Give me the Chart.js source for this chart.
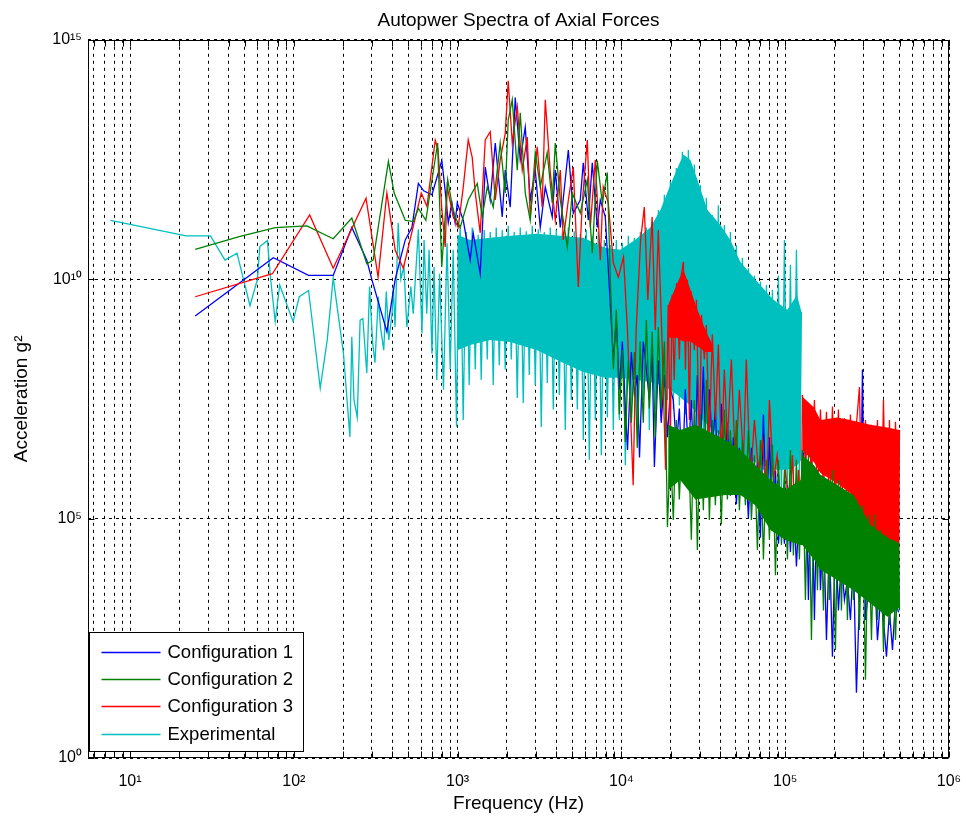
<!DOCTYPE html>
<html>
<head>
<meta charset="utf-8">
<script src="https://cdn.jsdelivr.net/npm/chart.js@4.4.0/dist/chart.umd.min.js"></script>
<style>
html, body { margin: 0; padding: 0; background: #fff; }
</style>
</head>
<body>
<canvas id="spectra" width="966" height="819"></canvas>
<script>
// Tick values and labels
const xTickValues = [10, 100, 1e3, 1e4, 1e5, 1e6];
const xTickLabels = ['10¹', '10²', '10³', '10⁴', '10⁵', '10⁶'];
const yTickValues = [1, 1e5, 1e10, 1e15];
const yTickLabels = ['10⁰', '10⁵', '10¹⁰', '10¹⁵'];

// Configuration 1 (blue) [frequency Hz, g^2]
const cfg1Data = [
  [25,1.7e9],[75,2.8e10],[123,1.2e10],[174,1.2e10],[226,1.2e11],[279,2.5e10],[299,1e10],[370,8e8],[416,1e10],[479,6.6e10],[526,1.2e11],[576,1e12],[620,7e11],[697,5.8e11],[801,3e12],[840,7e11],[877,1.5e11],[923,3.9e11],[966,1.5e11],
  [995,3.9e11],[1083,1.7e11],[1193,2.5e10],[1245,9.3e10],[1374,1.3e10],[1475,2.2e12],[1582,4.5e11],[1698,7e12],[1872,2e11],[1953,1.9e12],[2095,3.2e11],[2248,6.2e13],[2412,3.1e12],[2588,1.5e13],[2776,4.5e11],[2979,1.9e12],[3196,1.2e11],[3429,8.4e11],[3782,2e11],[3947,1.9e12],[4235,1.2e11],[4742,5e12],[5085,2.4e11],[5608,4.5e11],[5851,2.7e12],[6277,1.7e11],[6640,2.7e12],[7125,1.2e11],[7432,4.5e11],[7974,2e11],
  [8560,3e9],[8930,2e8],[9310,1.5e9],[9710,5e7],[10130,5e8],[10570,2e7],[10900,2.7e6],[11500,3e8],[12000,4e7],[12500,1e8],[12900,1.9e6],[13600,5e8],[14000,2.2e8],[14800,3e7],[15400,3e8],[15900,1.2e6],[16800,2e8],[17500,1e7],[18300,1e8],[19100,5e6],[19900,5e7],
  [20750,3e7],[21650,3e6],[22580,2e7],[23550,6e5],[24560,5e7],[25630,2e6],[26730,3e7],[27880,4e5],[29090,1e8],[30340,2e6],[31640,1.5e8],[33010,1e6],[34440,5e7],[35920,3e6],[37460,2e7],[39080,5e5],[40760,2.5e7],[42520,1e6],[44360,1e7],[46270,3e5],[48270,5e6],[50350,2e5],[52520,3e6],[54780,3e5],[57150,2e6],[59610,1e5],[62180,3e6],[64860,2e5],[67660,1.5e6],[70580,4e4],[73620,1.5e7],[76800,9e4],[80110,5e6],[83560,6.7e4],[87160,1e6],[90920,3e4],[94840,2e5],[98930,3e4],[103200,5e5],[107600,2e4],[112200,3e5],[117100,1e4],[122100,2e5],[125600,3e4],
  [127400,1.7e6],[132900,3.5e6],[138600,2e3],[144600,2.1e6],[150800,760],[157300,1.05e6],[164100,3.2e3],[171200,9.4e4],[178600,290],[186200,3.6e4],[194300,130],[202600,5.8e4],[211300,1.2e3],[220400,1.4e4],[229900,2e3],[239900,5.2e3],[250200,760],[261000,1.4e4],[272200,23],[284000,2e3],[296200,1.3e8],[309000,760],[322300,3.2e3],[336200,2e3],[350700,8.5e3],[365800,290],[381600,2e3],[398100,760],[415200,130],[433100,1.2e3],[451800,180],[471300,2e3],[491600,1.1e3]
];

// Configuration 2 (green)
const cfg2Data = [
  [25,4.2e10],[47,7.8e10],[77,1.2e11],[120,1.3e11],[174,7e10],[226,1.9e11],[279,2.1e10],[305,2.5e10],[378,2.9e12],[410,6.3e11],[479,1.7e11],[537,1.6e11],[576,3e11],[640,1.7e11],[755,7e12],[800,1.8e10],[870,1.2e12],[930,3.2e11],
  [967,2e11],[1037,1.2e11],[1161,4.5e11],[1318,1e12],[1414,2e11],[1517,8.5e11],[1650,3.2e11],[1820,7e12],[1953,6.3e11],[2037,2.1e13],[2156,5.6e13],[2313,1.9e12],[2412,3e13],[2588,6.3e11],[2776,1.7e11],[2979,4.4e12],[3196,8.5e11],[3524,4.4e12],[3782,3.9e11],[3947,7e12],[4235,4.5e11],[4675,4.7e10],[5012,6.3e11],[5608,2.4e11],[6194,1.2e12],[6640,3.5e10],[7125,3e12],[7646,3.9e11],[8200,1.7e12],
  [8560,9.7e9],[8930,1.3e8],[9310,2.3e9],[9710,1.5e7],[10130,3.3e8],[10570,4e6],[11020,2e8],[11500,1e7],[12000,3e8],[12500,3e6],[13000,5e8],[13600,1e7],[14200,1.4e9],[14800,2e7],[15400,8e8],[16100,5e6],[16800,1e9],[17500,2e7],[18300,5e8],[19100,6.7e4],[19900,3e6],
  [20750,9.4e4],[21650,1.15e7],[22580,2.5e5],[23550,7.1e6],[24560,1.05e6],[25630,4.4e6],[26730,3.6e4],[27880,3e7],[29090,2.2e4],[30340,1.5e7],[31640,1.5e5],[33010,7.9e7],[34440,9.4e4],[35920,1.15e7],[37460,1.9e5],[39080,7.1e6],[40760,7.5e4],[42520,1.9e7],[44360,2.5e5],[46270,7.1e6],[48270,4e5],[50350,1.15e7],[52520,1.5e5],[54780,4.4e6],[57150,1.9e5],[59610,7.1e6],[62180,9.4e4],[64860,2.1e6],[67660,2.2e4],[70580,4.4e6],[73620,1.4e4],[76800,1.7e6],[80110,3.6e4],[83560,3.5e6],[87160,6.6e3],[90920,1.7e6],[94840,2.8e4],[98930,1.05e6],[103200,1.4e4],[107600,2.7e6],[112200,1.7e4],[117100,1.7e6],[122100,1.4e4],
  [127400,2.7e6],[132900,2e3],[138600,2.1e6],[144600,290],[150800,1.05e6],[157300,3.2e3],[164100,6.4e5],[171200,1.2e3],[178600,5e5],[186200,2e3],[194300,1.05e6],[202600,180],[211300,6.4e5],[220400,1.2e3],[229900,4e5],[239900,760],[250200,3.1e5],[261000,2e3],[272200,2.5e5],[284000,470],[296200,1.9e5],[309000,43],[322300,1.2e5],[336200,290],[350700,1.2e5],[365800,760],[381600,5.8e4],[398100,180],[415200,4.6e4],[433100,600],[451800,3.6e4],[471300,290],[491600,2.8e4],[498600,1.2e3]
];

// Configuration 3 (red)
const cfg3Data = [
  [25,4.3e9],[74,1.3e10],[125,2.2e11],[174,1.7e10],[276,4.9e11],[327,1.1e10],[370,6.3e11],[416,4e10],[466,1.7e10],[537,1.3e11],[600,6.3e11],[650,3.3e11],[730,8e12],[760,5e12],[800,3.1e11],[840,4.7e10],[864,8.5e11],[940,2e11],
  [1008,1.2e11],[1083,8.5e11],[1161,8.1e12],[1228,3.5e12],[1282,6.3e11],[1374,9.3e10],[1475,8.1e12],[1582,1.2e13],[1698,4.5e11],[1820,3.1e12],[1953,1.1e13],[2037,1.4e14],[2156,7e12],[2313,4e13],[2482,1.9e12],[2663,9.3e12],[2776,2e11],[3062,5.8e12],[3285,3.2e11],[3429,5.6e13],[3679,1.7e12],[3947,1.7e11],[4235,1.9e12],[4416,6.6e10],[4742,4.5e11],[5085,2.2e12],[5456,6.9e9],[5770,3.9e11],[6194,8.1e12],[6459,1.2e11],[6930,3.1e12],[7432,2.5e10],[7748,8.5e11],[8318,3.9e11],[8925,2.2e10],[9580,1.1e10],[10300,2.9e10],
  [10900,8e8],[11800,5e5],[12300,8.7e8],[13100,6.6e10],[13800,3.2e11],[14500,3.7e9],[15400,2e11],[16100,8.7e8],[16800,1.07e11],[17700,5.4e8],[18600,1.05e6],
  [19300,2.9e9],[19900,4.4e6],[20400,4.7e9],[21000,7.9e7],[21700,8.3e9],[22600,2.1e8],[23200,1.2e10],[23900,2.3e10],[24600,1.3e8],[25300,9.7e9],[26000,1.15e7],[26700,5.5e9],[27900,3.3e8],[28700,3.7e9],[30000,2.1e6],[30800,1.8e9],[32100,2.1e8],[33000,1.1e9],[34400,4.4e6],[35900,7e8],[37500,1.15e7],[39100,4.3e8],[40800,1.7e6],[42500,1.3e8],[44400,4.4e6],[46900,2.1e8],[49700,1.05e6],[52500,4.9e7],[55600,1.7e6],[57900,2.1e8],[61300,6.4e5],[64900,1.15e7],[68600,1.05e6],[72600,4.4e6],[76800,2.5e5],[80100,3e7],[84700,6.4e5],[89300,2.1e6],[94800,9.4e4],[100300,1.05e6],[106100,1.5e5],[110700,2.1e6],[115500,5.8e4],[120500,1.05e6],[125600,9.4e4],
  [127400,3.8e7],[132900,1.05e6],[138600,2.4e7],[144600,6.4e5],[150800,3e7],[157300,2.5e5],[164100,1.9e7],[171200,3.1e5],[178600,1.7e7],[186200,1.5e5],[194300,2.2e7],[202600,1.9e5],[211300,1.9e7],[220400,9.4e4],[229900,1.25e7],[239900,5.8e4],[250200,1.5e7],[261000,3.6e4],[272200,9.1e6],[284000,5.6e7],[296200,2.8e4],[309000,1.15e7],[322300,1.4e4],[336200,9.1e6],[350700,2.2e4],[365800,1.15e7],[381600,1.7e4],[398100,3e7],[415200,1.4e4],[433100,1.15e7],[451800,1.07e4],[471300,1.05e7],[491600,1.4e4],[498600,7.1e6]
];

// Experimental (cyan)
const expData = [
  [7.6,1.7e11],[22,8e10],[31,8e10],[38,2.5e10],[45,3.5e10],[54,2.8e9],[60,1e10],[62,4.8e10],[69,6.4e10],[72,1.1e10],[77,1.3e9],[82,7.6e9],[99,1.3e9],[108,4.3e9],[123,5.8e9],[145,5.3e7],[160,5.4e8],[174,1.07e10],[201,2.8e8],[220,5.1e6],
  [226,6.3e8],[233,3e7],[244,1.3e7],[254,1.4e9],[264,1.5e9],[279,1.1e8],[290,7e9],[303,4.6e8],[313,1.8e8],[328,4.3e9],[338,1e9],[354,3.3e8],[367,5.5e9],[380,5.4e8],[398,1.9e9],[405,7e9],[415,1e9],[434,1.5e11],[450,1e10],[470,1.8e10],[490,1e9],[518,7e9],[536,1.9e9],[576,1.1e11],[606,7.4e8],[624,6.6e10],[648,1.9e9],[670,4.1e10],[697,2.8e8],[718,1.8e10],[746,7.9e7],[776,1.3e10],[820,4.9e7],[862,5.6e10],[901,1.3e8],[940,4.1e10],[985,8.3e6],[1010,1e10],
  [1037,1.35e11],[1082,1.15e7],[1129,9.7e10],[1177,6.2e7],[1228,1.2e11],[1281,1.3e8],[1336,8.5e10],[1394,7.9e7],[1454,1.07e11],[1517,2.1e8],[1582,9.7e10],[1650,6.2e7],[1721,1.2e11],[1796,1.6e8],[1873,1.07e11],[1953,1.3e8],[2038,1.3e11],[2126,2.1e8],[2217,9.7e10],[2313,3.3e7],[2412,1.2e11],[2516,2.6e7],[2625,1e11],[2738,1e8],[2856,1.3e11],[2979,6.2e7],[3108,1.1e11],[3242,8.2e6],[3381,9.7e10],[3527,6.8e7],[3679,1.2e11],[3838,1.9e7],[4003,1.07e11],[4176,3.8e7],[4356,9.3e10],[4544,7.1e6],[4740,1.2e11],[4944,3e7],[5157,1e11],[5380,1.9e7],[5611,8.9e10],[5853,4.4e6],[6106,1.07e11],[6369,1.7e6],[6643,8.1e10],[6930,1.15e7],[7229,9.7e10],[7541,2.1e6],[7866,6.6e10],[8205,1.3e7],[8559,5.2e10],[8928,7.1e6],[9311,6.6e10],[9710,1.15e7],
  [10130,5.8e10],[10570,1.3e6],[11020,8.1e10],[11500,1.9e7],[11990,7.3e10],[12510,9.1e6],[13050,9.7e10],[13610,3e7],[14200,1.2e11],[14810,7.1e6],[15450,1.6e11],[16110,1.9e7],[16810,2.8e11],[17530,1.15e7],[18290,5.8e11],[19080,3e7],[19900,1.1e12],[20750,1.9e7],[21650,2.1e12],[22580,2.3e7],[23550,4.6e12],[24560,1.5e7],[25630,5e12],[26730,1.15e7],[27880,2.5e12],[29090,7.1e6],[30340,9.3e11],[31640,4.4e6],[33010,5e11],[34440,3.5e6],[35920,2.2e11],[37460,2.7e6],[39080,3.5e11],[40760,2.1e6],[42520,1.35e11],[44360,1.7e6],[46270,9.7e10],[48270,1.3e6],[50350,5.2e10],[52520,1.05e6],[54780,2.8e10],[57150,8.2e5],[59610,1.7e10],[62180,6.4e5],[64860,1.2e10],[67660,5e5],[70580,8.9e9],[73620,1.05e6],[76800,7.6e9],[80110,3.1e5],[83560,6e9],[87160,4.4e5],[90920,1.2e10],[94840,2.5e5],[98930,6.6e10],[103200,3.1e5],[107600,2e10],[112200,4e5],[117100,4.1e10],[122100,6.4e5],[125600,2.1e9]
];

// Solid parts of the dense traces [frequency, upper edge, lower edge]
const expBand = [
  [995,8.5e10,3.3e8],[1193,6.6e10,4.2e8],[1582,7.3e10,5.4e8],[2095,8.1e10,4.9e8],[3062,8.9e10,3.3e8],[4235,8.1e10,1.9e8],[5851,7.3e10,1.15e8],[7974,4.5e10,8.7e7],[9850,4.1e10,8.7e7],[12100,6.6e10,7.9e7],[15000,1.2e11,7.1e7],[17300,2.8e11,6.2e7],[19900,9.3e11,4.9e7],[22000,2.1e12,3.8e7],[23900,4e12,3e7],[26400,3.1e12,2.3e7],[29100,1.2e12,1.5e7],[33500,2.8e11,9.1e6],[40200,1.35e11,5.6e6],[46200,6.6e10,3.5e6],[53300,2.3e10,2.1e6],[65800,9.7e9,1.5e6],[84700,3.7e9,1.05e6],[103000,2.3e9,1.05e6],[118000,4.7e9,1.3e6],[125600,2.1e9,1.7e6]
];
const cfg2Band = [
  [19300,9.1e6,4e5],[22900,7.1e6,6.4e5],[28300,9.1e6,2.5e5],[43100,4.4e6,3.1e5],[53300,2.7e6,3.1e5],[65800,1.3e6,1.9e5],[81200,6.4e5,5.8e4],[100000,4e5,3.6e4],[124000,6.4e5,2.8e4],[127400,2.1e6,2.8e4],[150000,1.3e6,1.4e4],[164000,8.2e5,8.5e3],[208000,5e5,5.2e3],[261000,3.1e5,3.2e3],[331000,7.4e4,1.7e3],[420000,4e4,890],[499000,3.1e4,1.4e3]
];
const cfg3Hump = [
  [19300,2.9e9,6e8],[21700,7.6e9,6e8],[23900,1.6e10,5e8],[26400,6e9,5e8],[29100,2.3e9,4e8],[32600,8.7e8,3e8],[36000,4.3e8,3e8]
];
const cfg3Band = [
  [127400,3.5e7,2.7e6],[150000,2.1e7,1.5e6],[164000,1.15e7,9e5],[208000,1.3e7,5.5e5],[250000,1.15e7,3.4e5],[331000,9.1e6,6.7e4],[420000,8e6,3.6e4],[499000,7.1e6,2.8e4]
];

const BLUE = '#0000ff', GREEN = '#008000', RED = '#ff0000', CYAN = '#00bfbf';
const FONT = "'Liberation Sans', Arial, Helvetica, sans-serif";
Chart.defaults.font.family = FONT;
Chart.defaults.color = '#000';

function trace(label, rows, color) {
  return {
    label: label,
    data: rows.map(r => ({ x: r[0], y: r[1] })),
    borderColor: color,
    backgroundColor: color,
    borderWidth: 1.3,
    pointRadius: 0,
    tension: 0,
    fill: false
  };
}

function band(rows, color) {
  return [
    { label: '', band: true, data: rows.map(r => ({ x: r[0], y: r[1] })),
      borderColor: 'rgba(0,0,0,0)', borderWidth: 1, pointRadius: 0, fill: false },
    { label: '', band: true, data: rows.map(r => ({ x: r[0], y: r[2] })),
      borderColor: 'rgba(0,0,0,0)', borderWidth: 1, pointRadius: 0, fill: '-1', backgroundColor: color }
  ];
}

// first dataset is drawn on top
const datasets = [
  trace('Configuration 2', cfg2Data, GREEN),
  ...band(cfg2Band, GREEN),
  trace('Configuration 3', cfg3Data, RED),
  ...band(cfg3Hump, RED),
  ...band(cfg3Band, RED),
  trace('Configuration 1', cfg1Data, BLUE),
  trace('Experimental', expData, CYAN),
  ...band(expBand, CYAN)
];

const legendOrder = ['Configuration 1', 'Configuration 2', 'Configuration 3', 'Experimental'];

const xGridValues = [];
[1, 10, 100, 1e3, 1e4, 1e5].forEach(d => {
  for (let k = 1; k <= 9; k++) if (k * d >= 6) xGridValues.push(k * d);
});
xGridValues.push(1e6);

// frame, inner tick marks and legend box
const framePlugin = {
  id: 'frame',
  afterDraw(chart) {
    const { ctx, chartArea: a, scales } = chart;
    const L = Math.round(a.left) + 0.5, R = Math.round(a.right) - 0.5;
    const T = Math.round(a.top) + 0.5, B = Math.round(a.bottom) - 0.5;
    ctx.save();
    ctx.setLineDash([]);
    ctx.strokeStyle = '#000';
    ctx.lineWidth = 1;
    ctx.beginPath();
    scales.x.ticks.forEach(t => {
      const px = Math.round(scales.x.getPixelForValue(t.value)) + 0.5;
      ctx.moveTo(px, B); ctx.lineTo(px, B - 6);
      ctx.moveTo(px, T); ctx.lineTo(px, T + 6);
    });
    scales.y.ticks.forEach(t => {
      const py = Math.round(scales.y.getPixelForValue(t.value)) + 0.5;
      ctx.moveTo(L, py); ctx.lineTo(L + 6, py);
      ctx.moveTo(R, py); ctx.lineTo(R - 6, py);
    });
    ctx.stroke();
    ctx.strokeRect(L, T, R - L, B - T);

    // legend
    const lx = L + 1, ly = B - 125, w = 214, h = 119;
    ctx.fillStyle = '#fff';
    ctx.fillRect(lx, ly, w, h);
    ctx.strokeRect(lx, ly, w, h);
    ctx.font = '18.5px ' + FONT;
    ctx.textBaseline = 'middle';
    ctx.textAlign = 'left';
    const rows = [19, 46, 73, 101];
    legendOrder.forEach((name, i) => {
      const ds = chart.data.datasets.find(d => d.label === name);
      const yy = Math.round(ly + rows[i]) + 0.5;
      ctx.strokeStyle = ds.borderColor;
      ctx.lineWidth = 1.3;
      ctx.beginPath();
      ctx.moveTo(lx + 12, yy); ctx.lineTo(lx + 71, yy);
      ctx.stroke();
      ctx.fillStyle = '#000';
      ctx.fillText(name, lx + 78, yy);
    });
    ctx.restore();
  }
};

new Chart(document.getElementById('spectra'), {
  type: 'line',
  data: { datasets: datasets },
  options: {
    responsive: false,
    animation: false,
    devicePixelRatio: 1,
    layout: { padding: { left: 0, right: 17, top: 0, bottom: 0 } },
    plugins: {
      legend: { display: false },
      tooltip: { enabled: false },
      title: {
        display: true,
        fullSize: false,
        text: 'Autopwer Spectra of Axial Forces',
        color: '#000',
        font: { size: 19, weight: 'normal' },
        padding: { top: 9, bottom: 8 }
      }
    },
    scales: {
      x: {
        type: 'logarithmic',
        min: 5.54,
        max: 1e6,
        afterFit(scale) {
          scale.height = 61;
          scale.paddingLeft = 0;
          scale.paddingRight = 0;
        },
        afterBuildTicks(scale) { scale.ticks = xGridValues.map(v => ({ value: v })); },
        ticks: {
          autoSkip: false,
          maxRotation: 0,
          minRotation: 0,
          padding: 14,
          color: '#000',
          font: { size: 16 },
          callback(value) {
            const i = xTickValues.indexOf(value);
            return i >= 0 ? xTickLabels[i] : '';
          }
        },
        grid: { color: '#000', lineWidth: 1, drawTicks: false },
        border: { display: false, dash: [3, 4] },
        title: { display: true, text: 'Frequency (Hz)', color: '#000', font: { size: 19 }, padding: { top: 0, bottom: 4 } }
      },
      y: {
        type: 'logarithmic',
        min: 1,
        max: 1e15,
        afterFit(scale) {
          scale.width = 88;
          scale.paddingTop = 0;
          scale.paddingBottom = 0;
        },
        afterBuildTicks(scale) { scale.ticks = yTickValues.map(v => ({ value: v })); },
        ticks: {
          padding: 6,
          color: '#000',
          font: { size: 16 },
          callback(value) {
            const i = yTickValues.indexOf(value);
            return i >= 0 ? yTickLabels[i] : '';
          }
        },
        grid: { color: '#000', lineWidth: 1, drawTicks: false },
        border: { display: false, dash: [3, 4] },
        title: { display: true, text: 'Acceleration g²', color: '#000', font: { size: 19 }, padding: { top: 10, bottom: 0 } }
      }
    }
  },
  plugins: [framePlugin]
});
</script>
</body>
</html>
